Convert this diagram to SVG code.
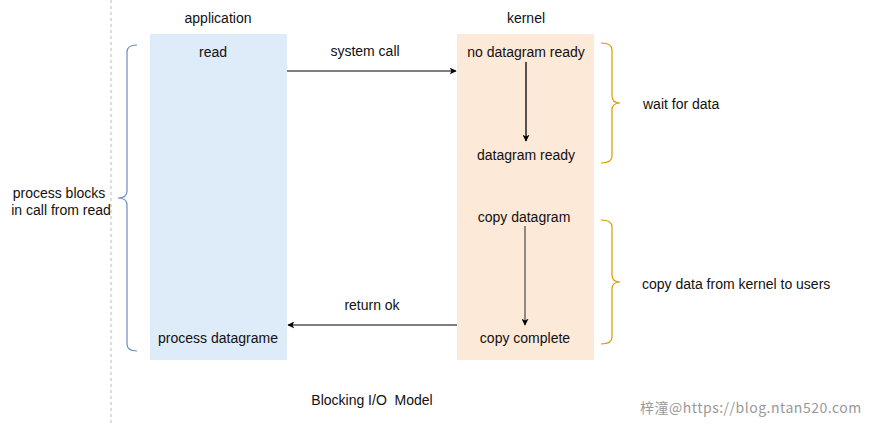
<svg xmlns="http://www.w3.org/2000/svg" width="874" height="425" viewBox="0 0 874 425">
<style>
text{font-family:"Liberation Sans",Arial,sans-serif;font-size:14px;fill:#111}
.c{text-anchor:middle}
.conn{stroke:#555;stroke-width:1.3;fill:none}
.brace-b{stroke:#6c8ebf;stroke-width:1.2;fill:none}
.brace-o{stroke:#d79b00;stroke-width:1.2;fill:none}
</style>
<defs>
<marker id="ah" viewBox="0 0 10 10" refX="9" refY="5" markerWidth="7" markerHeight="7" orient="auto" markerUnits="userSpaceOnUse">
<path d="M0,0 L10,5 L0,10 L2.5,5 Z" fill="#000"/>
</marker>
</defs>
<rect width="874" height="425" fill="#fff"/>
<line x1="111" y1="0" x2="111" y2="425" stroke="#bbb" stroke-width="1" stroke-dasharray="3,3"/>
<g id="application">
<rect x="150" y="34" width="137" height="326" fill="#deebf9"/>
<text class="c" x="218" y="23">application</text>
<text class="c" x="213" y="57">read</text>
<text class="c" x="218" y="343">process datagrame</text>
</g>
<g id="kernel">
<rect x="457" y="34" width="137" height="326" fill="#fde9d8"/>
<text class="c" x="526" y="23">kernel</text>
<text class="c" x="526" y="57">no datagram ready</text>
<text class="c" x="526" y="160">datagram ready</text>
<text class="c" x="524" y="222">copy datagram</text>
<text class="c" x="525" y="343">copy complete</text>
</g>
<g id="block-brace">
<path class="brace-b" d="M137,45 Q127,45 127,52 L127,191 Q127,198 118,198 Q127,198 127,205 L127,344 Q127,351 137,351"/>
<text class="c" x="59" y="198">process blocks</text>
<text class="c" x="61" y="215">in call from read</text>
</g>
<g id="wait-brace">
<path class="brace-o" d="M601,43 Q612,43 612,50 L612,96 Q612,103 620,103 Q612,103 612,110 L612,156 Q612,163 601,163"/>
<text x="643" y="109">wait for data</text>
</g>
<g id="copy-brace">
<path class="brace-o" d="M601,220 Q612,220 612,227 L612,275 Q612,282 620,282 Q612,282 612,289 L612,337 Q612,344 601,344"/>
<text x="642" y="289">copy data from kernel to users</text>
</g>
<g id="connectors">
<line class="conn" x1="287" y1="71" x2="456" y2="71" marker-end="url(#ah)"/>
<text class="c" x="365" y="56">system call</text>
<line class="conn" x1="457" y1="325" x2="288" y2="325" marker-end="url(#ah)"/>
<text class="c" x="372" y="310">return ok</text>
<line x1="526" y1="62" x2="526" y2="141" stroke="#000" stroke-width="1.3" marker-end="url(#ah)"/>
<line class="conn" x1="525" y1="226" x2="525" y2="325" marker-end="url(#ah)"/>
</g>
<text class="c" x="372" y="405" xml:space="preserve" style="white-space:pre">Blocking I/O  Model</text>
<text x="640" y="413" style="font-family:'Noto Sans CJK SC','Liberation Sans',sans-serif;font-size:14px;letter-spacing:0.5px;fill:#999">梓潼@https://blog.ntan520.com</text>
</svg>
